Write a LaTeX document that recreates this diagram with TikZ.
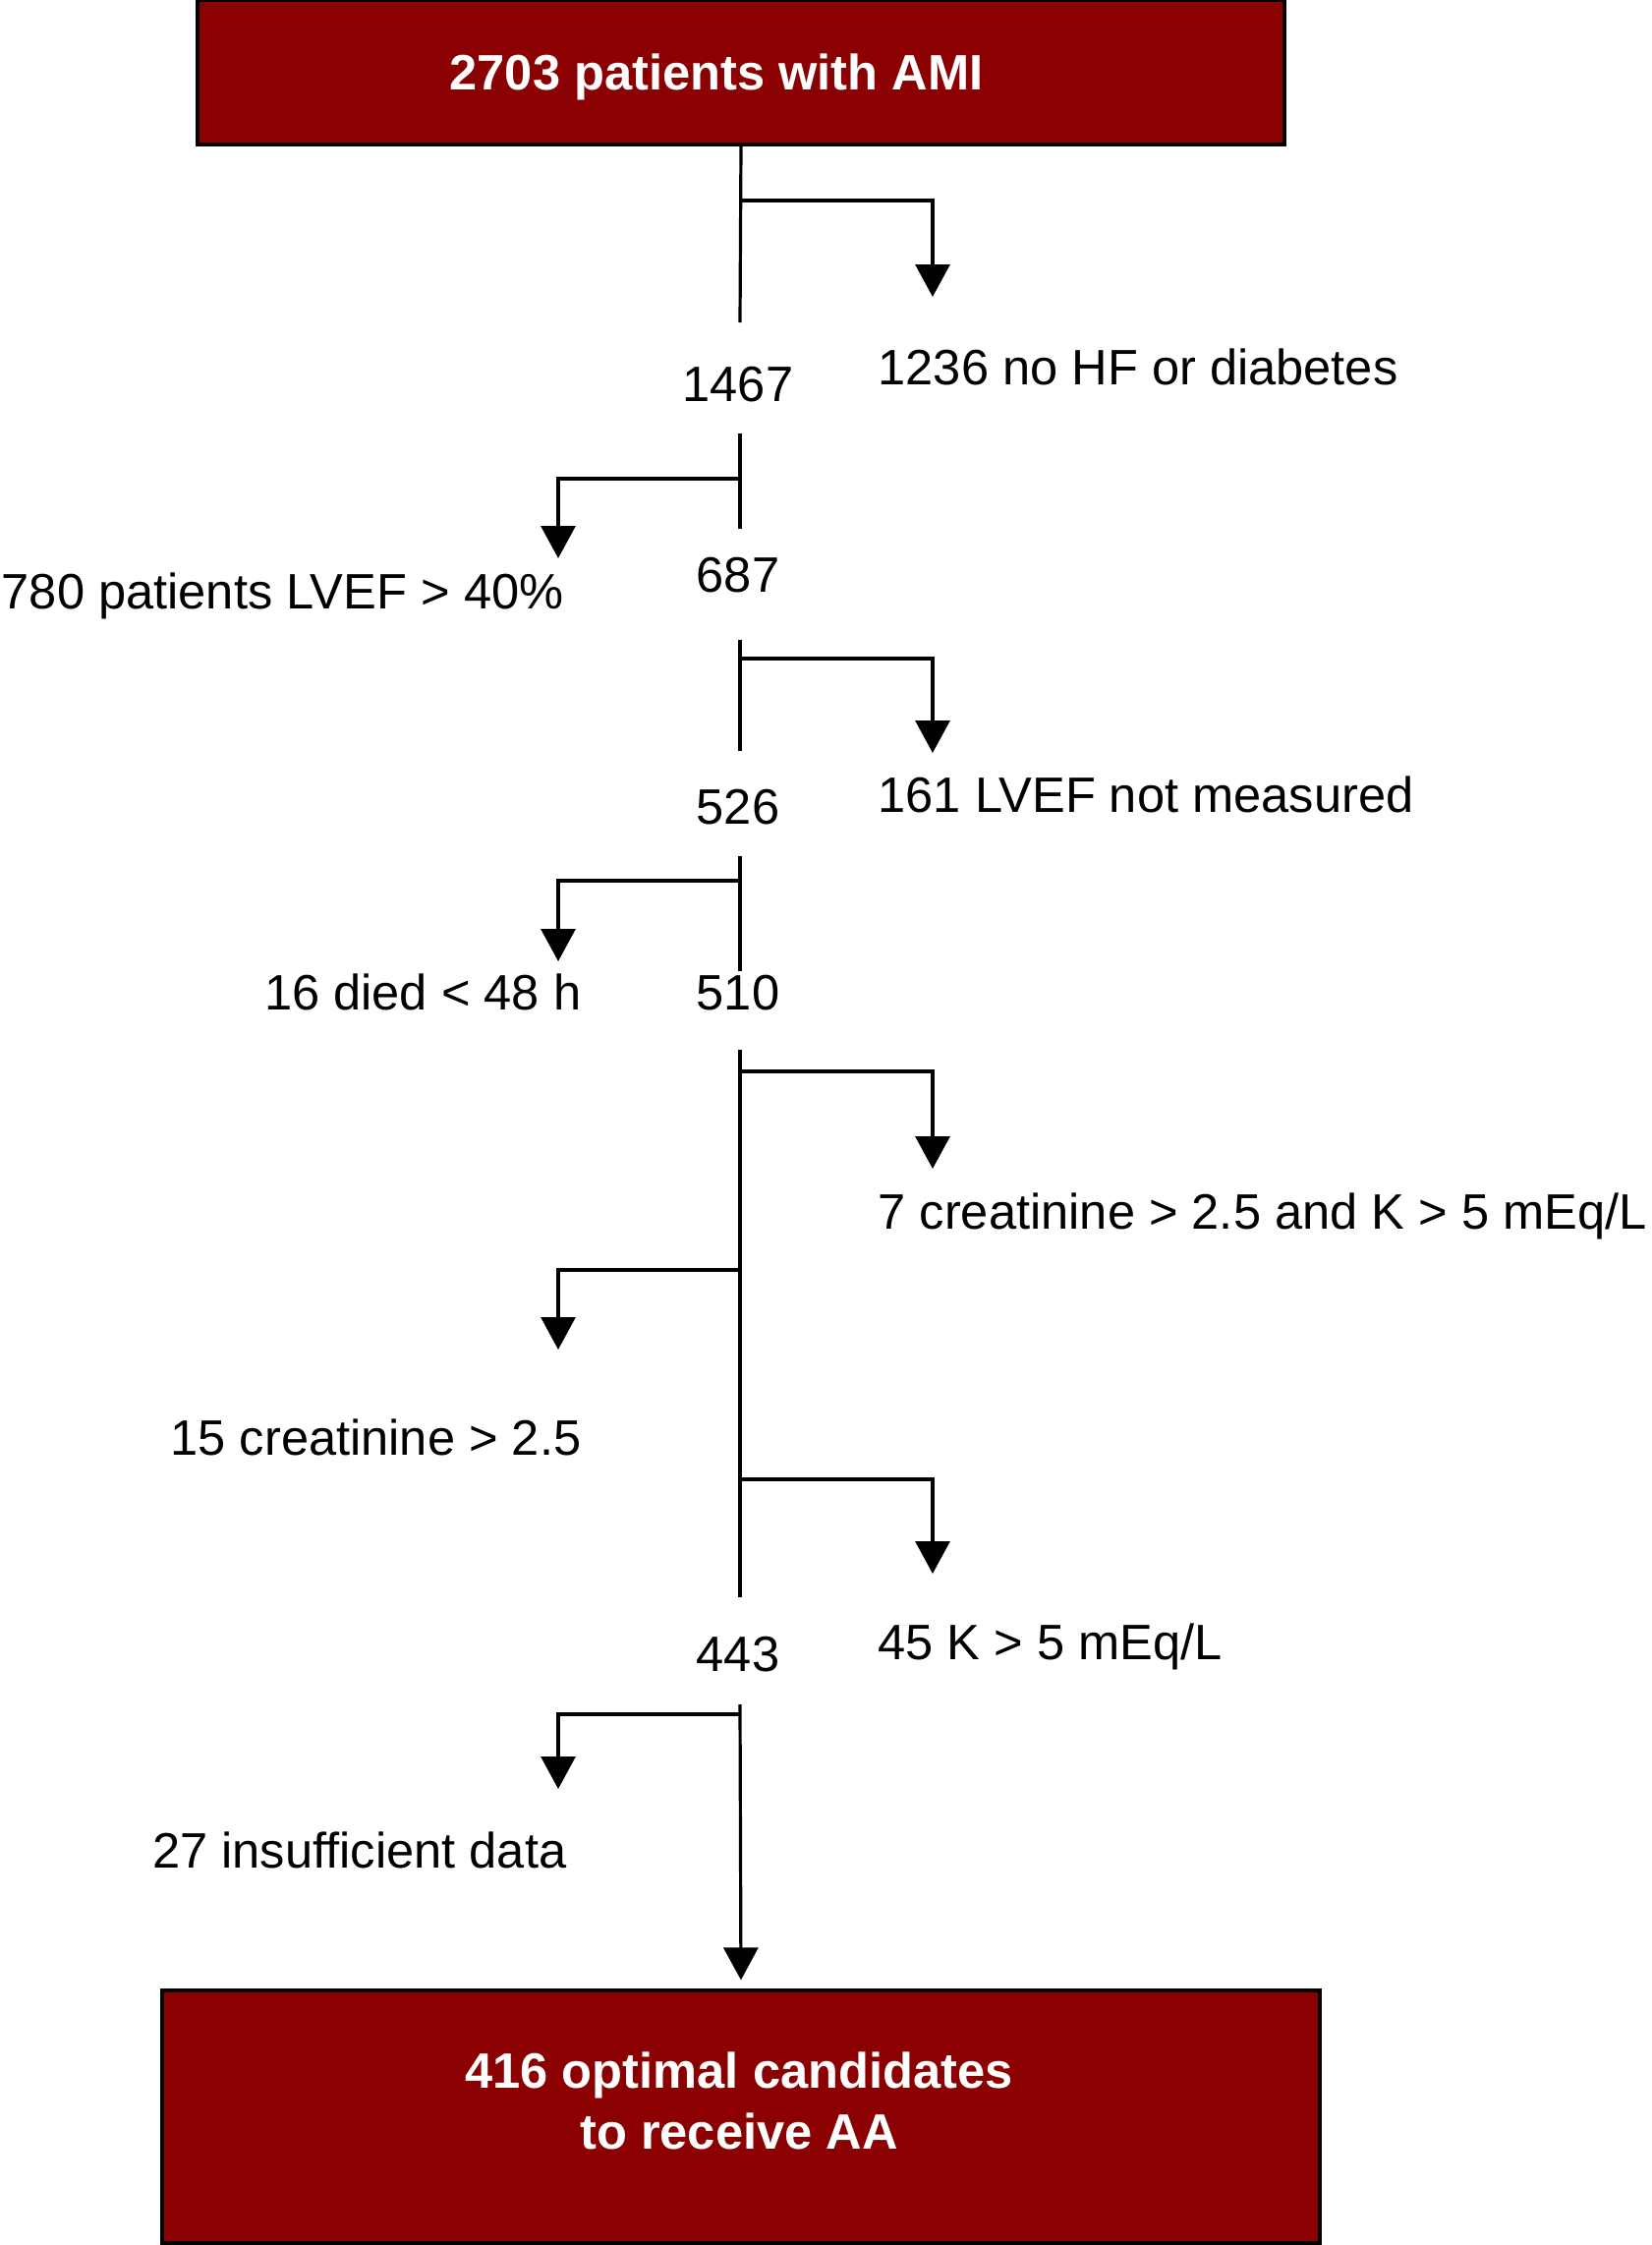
\documentclass[tikz,border=0pt]{standalone}
\usepackage{fontspec}
\setmainfont{Liberation Sans}
\usetikzlibrary{arrows.meta}
\definecolor{amiRed}{HTML}{8B0000}
\tikzset{
  % one line weight and one tip for the whole chart
  every picture/.append style = {line width=0.32mm, >={Triangle[length=3.3mm, width=3.5mm]}},
  redbox/.style  = {draw=black, fill=amiRed, line width=0.32mm, inner sep=0pt},
  boxtxt/.style  = {white, font=\fontsize{14.4}{17.6}\selectfont\bfseries, inner sep=0pt},
  count/.style   = {font=\fontsize{14.4}{17}\selectfont, inner sep=0pt, anchor=base},
  outR/.style    = {font=\fontsize{14.4}{17}\selectfont, inner sep=0pt, anchor=base west},
  outL/.style    = {font=\fontsize{14.4}{17}\selectfont, inner sep=0pt, anchor=base east},
}

\begin{document}
\begin{tikzpicture}[x=0.1mm, y=-0.1mm,
    trunk/.style={black},
    excl/.style={->, black}]
  \useasboundingbox (0,0) rectangle (1680,2284);
  % cohort
  \node[redbox, minimum width=110.6mm, minimum height=14.7mm] (top) at (754,73.5) {};
  \node[boxtxt, anchor=base] (toptxt) at (729,92) {2703 patients with AMI};
  % counts on the trunk
  \node[count] (n1467) at (751,408) {1467};
  \node[count] (n687) at (751,602) {687};
  \node[count] (n526) at (751,838) {526};
  \node[count] (n510) at (751,1027) {510};
  \node[count] (n443) at (751,1700) {443};
  % exclusions
  \node[outR] (noHF) at (892,391) {1236 no HF or diabetes};
  \node[outL] (lvef) at (575,619) {780 patients LVEF > 40\%};
  \node[outR] (noLVEF) at (892,826) {161 LVEF not measured};
  \node[outL] (died) at (593,1027) {16 died < 48 h};
  \node[outR] (creatK) at (892,1250) {7 creatinine > 2.5 and K > 5 mEq/L};
  \node[outL] (creat) at (593,1480) {15 creatinine > 2.5};
  \node[outR] (potas) at (892,1688) {45 K > 5 mEq/L};
  \node[outL] (nodata) at (578,1900) {27 insufficient data};
  % candidates
  \node[redbox, minimum width=117.8mm, minimum height=25.7mm] (bottom) at (754,2153.5) {};
  \node[boxtxt, align=center] (bottxt) at (752,2137) {416 optimal candidates\\to receive AA};
  % trunk pieces
  \coordinate (t1e) at (753,328);
  \coordinate (t2s) at (753,441);  \coordinate (t2e) at (753,538);
  \coordinate (t3s) at (753,651);  \coordinate (t3e) at (753,764);
  \coordinate (t4s) at (753,871);  \coordinate (t4e) at (753,988);
  \coordinate (t5s) at (753,1068); \coordinate (t5e) at (753,1625);
  \coordinate (t6s) at (753,1734);
  \draw[trunk] (top.south) -- (t1e);
  \draw[trunk] (t2s) -- (t2e);
  \draw[trunk] (t3s) -- (t3e);
  \draw[trunk] (t4s) -- (t4e);
  \draw[trunk] (t5s) -- (t5e);
  \draw[excl, shorten >=0.9mm] (t6s) -- (bottom.north);
  % side arrows
  \coordinate (b1) at (753,204);  \coordinate (a1) at (949,302);
  \coordinate (b2) at (753,487);  \coordinate (a2) at (568,568);
  \coordinate (b3) at (753,670);  \coordinate (a3) at (949,766);
  \coordinate (b4) at (753,896);  \coordinate (a4) at (568,978);
  \coordinate (b5) at (753,1090); \coordinate (a5) at (949,1189);
  \coordinate (b6) at (753,1292); \coordinate (a6) at (568,1373);
  \coordinate (b7) at (753,1505); \coordinate (a7) at (949,1601);
  \coordinate (b8) at (753,1744); \coordinate (a8) at (568,1820);
  \draw[excl] (b1) -| (a1);
  \draw[excl] (b2) -| (a2);
  \draw[excl] (b3) -| (a3);
  \draw[excl] (b4) -| (a4);
  \draw[excl] (b5) -| (a5);
  \draw[excl] (b6) -| (a6);
  \draw[excl] (b7) -| (a7);
  \draw[excl] (b8) -| (a8);
\end{tikzpicture}
\end{document}
